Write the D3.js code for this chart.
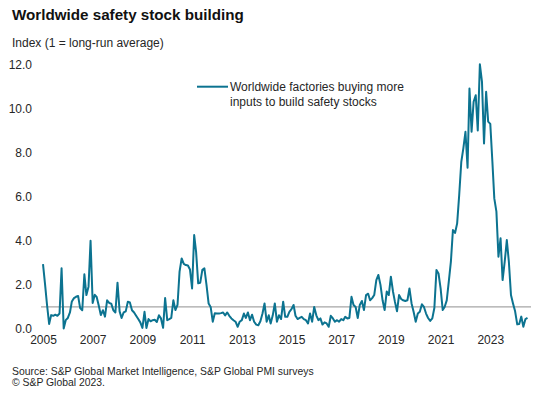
<!DOCTYPE html>
<html>
<head>
<meta charset="utf-8">
<script src="https://cdn.jsdelivr.net/npm/d3@7"></script>
<style>
  html, body { margin: 0; padding: 0; background: #fff; }
  svg { display: block; font-family: "Liberation Sans", Arial, sans-serif; }
</style>
</head>
<body>
<svg id="chart" width="544" height="395"></svg>
<script>
// ---- Data (monthly, starting Jan 2005) ----
const startYear = 2005;
const seriesName = ["Worldwide factories buying more", "inputs to build safety stocks"];
const values = [
  2.94,2.0,1.1,0.23,0.63,0.6,0.65,0.6,0.7,2.75,
  0.02,0.4,0.5,0.75,1.25,1.4,1.46,1.5,0.95,0.85,
  2.48,1.54,1.92,4.0,1.18,1.55,1.45,1.05,0.63,0.85,
  0.56,1.3,1.18,1.15,0.85,0.75,2.1,0.8,0.5,0.75,
  0.8,1.24,1.2,0.85,0.75,0.6,0.45,0.3,0.05,0.78,
  0.05,0.45,0.35,0.4,0.42,0.32,0.62,0.48,0.05,1.4,
  0.4,0.45,0.5,1.3,0.86,1.09,2.6,3.2,2.95,2.9,
  2.88,2.7,1.84,4.26,3.5,2.07,2.1,2.68,2.75,2.0,
  1.16,1.0,0.33,0.71,0.7,0.7,0.72,0.75,0.62,0.75,
  0.6,0.48,0.4,0.33,0.1,0.33,0.4,0.7,0.5,0.75,
  0.4,0.65,0.33,0.2,0.17,0.35,0.7,1.16,0.33,0.62,
  0.25,0.62,1.16,0.33,0.62,0.45,1.24,0.55,0.55,0.78,
  0.9,1.09,0.6,0.45,0.5,0.55,0.45,0.4,0.25,0.7,
  0.33,1.0,0.62,0.4,0.48,0.2,0.3,0.25,0.1,0.6,
  0.48,0.33,0.4,0.33,0.45,0.4,0.55,0.48,0.5,1.46,
  1.09,1.0,0.5,1.09,1.27,0.86,1.54,1.6,1.3,1.4,
  1.54,2.22,2.45,2.0,1.3,0.86,1.7,1.54,2.37,1.7,
  1.24,0.8,1.54,1.36,1.3,1.27,1.3,1.84,1.16,0.78,
  0.33,0.7,0.78,1.12,1.0,0.7,0.5,0.37,0.48,0.95,
  2.68,2.52,1.84,0.86,1.0,1.3,2.15,3.05,4.49,4.35,
  4.79,6.07,7.58,8.19,8.94,7.31,10.9,8.94,10.3,10.6,
  9.0,12.0,11.2,8.41,10.75,9.4,9.3,7.58,5.92,5.32,
  3.28,4.11,2.22,3.05,4.03,3.05,1.54,1.16,0.8,0.21,
  0.23,0.56,0.1,0.45,0.5
];
const referenceValue = 1;
const yTicks = [0, 2, 4, 6, 8, 10, 12];
const xTickYears = [2005, 2007, 2009, 2011, 2013, 2015, 2017, 2019, 2021, 2023];

const titleText = "Worldwide safety stock building";
const subtitleText = "Index (1 = long-run average)";
const sourceLines = ["Source: S&P Global Market Intelligence, S&P Global PMI surveys", "© S&P Global 2023."];

// ---- Build ----
const start = new Date(startYear, 0, 1);
const data = values.map((v, i) => ({ date: d3.timeMonth.offset(start, i), value: v }));

const svg = d3.select("#chart");
const lineColor = "#0c7390";
const textColor = "#262626";

const x = d3.scaleTime()
  .domain([data[0].date, data[data.length - 1].date])
  .range([43, 527.5]);
const y = d3.scaleLinear().domain([0, 12]).range([329, 64.3]);

// Title & subtitle
svg.append("text").attr("x", 12).attr("y", 20)
  .attr("font-size", 15.2).attr("font-weight", "bold").attr("fill", "#111")
  .text(titleText);
svg.append("text").attr("x", 12).attr("y", 46.5)
  .attr("font-size", 12).attr("fill", textColor)
  .text(subtitleText);

// Y axis labels
const yAxis = d3.axisLeft(y).tickValues(yTicks).tickFormat(d3.format(".1f")).tickSize(0).tickPadding(0);
const gy = svg.append("g").attr("transform", "translate(32,0)").call(yAxis);
gy.select(".domain").remove();
gy.selectAll("text").attr("font-size", 12).attr("fill", textColor)
  .attr("font-family", "Liberation Sans, Arial, sans-serif");

// X axis labels
const xAxis = d3.axisBottom(x)
  .tickValues(xTickYears.map(yr => new Date(yr, 0, 1)))
  .tickFormat(d3.timeFormat("%Y")).tickSize(0).tickPadding(0);
const gx = svg.append("g").attr("transform", "translate(0,335)").call(xAxis);
gx.select(".domain").remove();
gx.selectAll("text").attr("font-size", 12).attr("fill", textColor)
  .attr("font-family", "Liberation Sans, Arial, sans-serif");

// Reference line at 1
svg.append("line")
  .attr("x1", 41).attr("x2", 531)
  .attr("y1", y(referenceValue)).attr("y2", y(referenceValue))
  .attr("stroke", "#a6a6a6").attr("stroke-width", 1.2);

// Series line
const line = d3.line().x(d => x(d.date)).y(d => y(d.value));
svg.append("path").datum(data)
  .attr("fill", "none").attr("stroke", lineColor)
  .attr("stroke-width", 2).attr("stroke-linejoin", "round")
  .attr("d", line);

// Legend
svg.append("line").attr("x1", 197).attr("x2", 228).attr("y1", 86.7).attr("y2", 86.7)
  .attr("stroke", lineColor).attr("stroke-width", 2);
seriesName.forEach((t, i) => {
  svg.append("text").attr("x", 230).attr("y", 91 + i * 14.7)
    .attr("font-size", 12).attr("fill", textColor).text(t);
});

// Source
sourceLines.forEach((t, i) => {
  svg.append("text").attr("x", 12).attr("y", 374.5 + i * 11.5)
    .attr("font-size", 10.4).attr("fill", textColor).text(t);
});
</script>
</body>
</html>
